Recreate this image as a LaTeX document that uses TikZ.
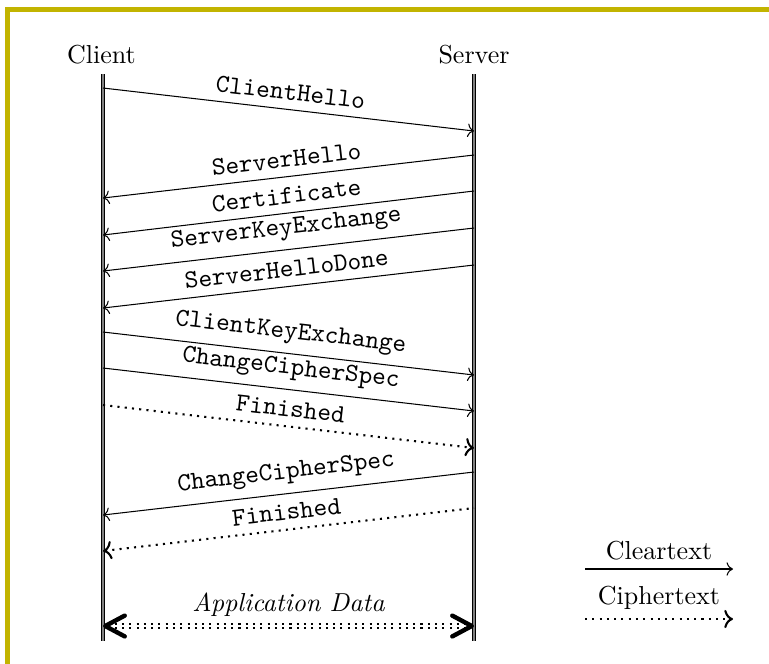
\documentclass[tikz,border=0pt]{standalone}
\usetikzlibrary{arrows.meta}
\definecolor{framecol}{RGB}{194,180,0}
\begin{document}
\begin{tikzpicture}[x=0.3846pt,y=-0.3846pt,
  lifeline/.style={draw=black, line width=0.45pt, double=gray, double distance=0.6pt},
  clearmsg/.style={->},
  ciphermsg/.style={->, thick, dotted},
  msglabel/.style={above, sloped, midway, font=\ttfamily},
  appbarb/.tip={Straight Barb[length=7.5pt, width=8pt, line width=1.7pt, round]},
  appdata/.style={dotted, double, line width=0.8pt, double distance=0.6pt, appbarb-appbarb}
]
\useasboundingbox (0,0) rectangle (769,663);
\clip (0,0) rectangle (769,663);

% outer frame (open towards the right and bottom page edges)
\draw[framecol, line width=2.1pt] (7.5,9.5) rectangle (800,700);

% participants and lifelines
\node (client) at (101.5,55) {Client};
\node (server) at (474,55) {Server};
\coordinate (ctop) at (103,74);
\coordinate (cbot) at (103,641);
\coordinate (stop) at (474,74);
\coordinate (sbot) at (474,641);
\draw[lifeline] (ctop) -- (cbot);
\draw[lifeline] (stop) -- (sbot);

% message end points on the lifelines
\coordinate (m1c) at (103,88);   \coordinate (m1s) at (474,131);
\coordinate (m2s) at (474,155);  \coordinate (m2c) at (103,198);
\coordinate (m3s) at (474,191);  \coordinate (m3c) at (103,235);
\coordinate (m4s) at (474,228);  \coordinate (m4c) at (103,271);
\coordinate (m5s) at (474,265);  \coordinate (m5c) at (103,308);
\coordinate (m6c) at (103,332);  \coordinate (m6s) at (474,375);
\coordinate (m7c) at (103,368);  \coordinate (m7s) at (474,411);
\coordinate (m8c) at (103,405);  \coordinate (m8s) at (474,448);
\coordinate (m9s) at (474,472);  \coordinate (m9c) at (103,515);
\coordinate (m10s) at (474,508); \coordinate (m10c) at (103,551);
\coordinate (appc) at (103,626); \coordinate (apps) at (474,626);

% handshake messages
\draw[clearmsg] (m1c) -- node[msglabel] {ClientHello} (m1s);
\draw[clearmsg, <-] (m2c) -- node[msglabel] {ServerHello} (m2s);
\draw[clearmsg, <-] (m3c) -- node[msglabel] {Certificate} (m3s);
\draw[clearmsg, <-] (m4c) -- node[msglabel] {ServerKeyExchange} (m4s);
\draw[clearmsg, <-] (m5c) -- node[msglabel] {ServerHelloDone} (m5s);
\draw[clearmsg] (m6c) -- node[msglabel] {ClientKeyExchange} (m6s);
\draw[clearmsg] (m7c) -- node[msglabel] {ChangeCipherSpec} (m7s);
\draw[ciphermsg] (m8c) -- node[msglabel] {Finished} (m8s);
\draw[clearmsg, <-] (m9c) -- node[msglabel] {ChangeCipherSpec} (m9s);
\draw[ciphermsg, <-] (m10c) -- node[msglabel] {Finished} (m10s);

% application data exchange
\draw[appdata] (appc) -- node[above, midway, font=\itshape] {Application Data} (apps);

% legend
\coordinate (lgca) at (585,569); \coordinate (lgcb) at (733,569);
\coordinate (lgxa) at (585,619); \coordinate (lgxb) at (733,619);
\draw[clearmsg] (lgca) -- node[above] {Cleartext} (lgcb);
\draw[ciphermsg] (lgxa) -- node[above] {Ciphertext} (lgxb);
\end{tikzpicture}
\end{document}
